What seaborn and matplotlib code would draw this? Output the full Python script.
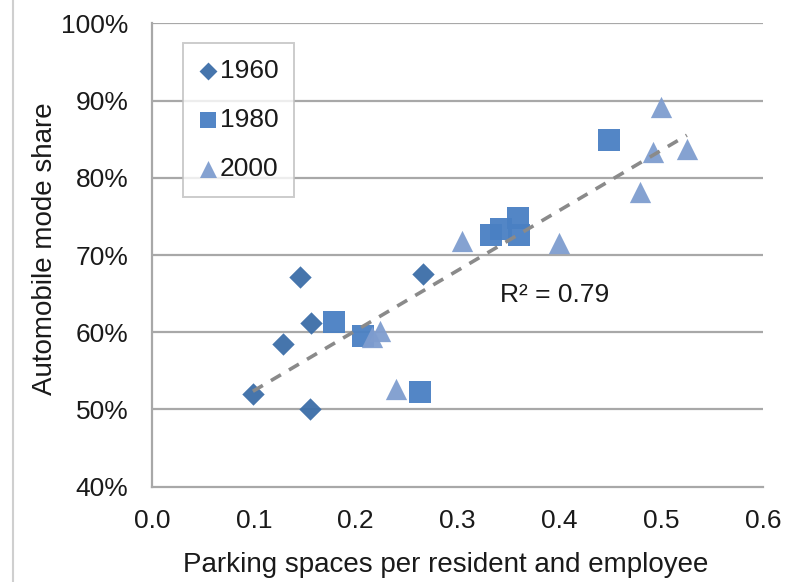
import numpy as np
import pandas as pd
import matplotlib
matplotlib.use("Agg")
import matplotlib.pyplot as plt
from matplotlib.ticker import PercentFormatter, MultipleLocator
from matplotlib.lines import Line2D
import seaborn as sns

# Parking supply vs. automobile mode share, by census year
x_1960 = [0.099, 0.145, 0.156, 0.129, 0.155, 0.266]
y_1960 = [52.0, 67.2, 61.2, 58.5, 50.0, 67.5]

x_1980 = [0.179, 0.207, 0.263, 0.449, 0.333, 0.343, 0.359, 0.360]
y_1980 = [61.3, 59.5, 52.2, 84.9, 72.6, 73.4, 74.8, 72.6]

x_2000 = [0.224, 0.216, 0.239, 0.304, 0.399, 0.500, 0.492, 0.525, 0.479]
y_2000 = [60.2, 59.4, 52.6, 71.8, 71.6, 89.2, 83.4, 83.7, 78.2]

years = ["1960", "1980", "2000"]
r2_label = "R² = 0.79"

df = pd.concat([
    pd.DataFrame({"parking": x_1960, "share": y_1960, "year": "1960"}),
    pd.DataFrame({"parking": x_1980, "share": y_1980, "year": "1980"}),
    pd.DataFrame({"parking": x_2000, "share": y_2000, "year": "2000"}),
], ignore_index=True)

sns.set_theme(style="white")
plt.rcParams["font.family"] = ["Liberation Sans", "DejaVu Sans"]

palette = {"1960": "#3c6ea8", "1980": "#4a80c3", "2000": "#7f9dcf"}
markers = {"1960": "D", "1980": "s", "2000": "^"}
sizes = {"1960": 130, "1980": 230, "2000": 235}

fig = plt.figure(figsize=(8.1, 5.82), dpi=100)
ax = fig.add_axes([0.1877, 0.1637, 0.7546, 0.7963])

grid_c = "#a8a8a8"
for v in range(50, 101, 10):
    ax.axhline(v, color=grid_c, lw=1.6, zorder=0)

for yr in years:
    sub = df[df["year"] == yr]
    sns.scatterplot(data=sub, x="parking", y="share", ax=ax,
                    color=palette[yr], marker=markers[yr], s=sizes[yr],
                    linewidth=0, label=yr, zorder=3, alpha=0.95)

sns.regplot(data=df, x="parking", y="share", ax=ax, scatter=False, ci=None,
            truncate=True,
            line_kws=dict(color="#8a8a8a", lw=2.6, ls=(0, (3.2, 2.6)), zorder=4))

ax.set_xlim(0, 0.6)
ax.set_ylim(40, 100)
ax.xaxis.set_major_locator(MultipleLocator(0.1))
ax.yaxis.set_major_locator(MultipleLocator(10))
ax.xaxis.set_major_formatter(lambda v, p: f"{v:.1f}")
ax.yaxis.set_major_formatter(PercentFormatter(100, decimals=0))

for side in ["top", "right"]:
    ax.spines[side].set_visible(False)
for side in ["left", "bottom"]:
    ax.spines[side].set_color(grid_c)
    ax.spines[side].set_linewidth(1.6)

ax.tick_params(axis="both", which="major", direction="out", length=6,
               width=1.6, color=grid_c, labelsize=19, labelcolor="#1a1a1a")
ax.tick_params(axis="x", pad=10)
ax.tick_params(axis="y", pad=11)

ax.set_xlabel("Parking spaces per resident and employee", fontsize=20,
              color="#1a1a1a")
ax.set_ylabel("Automobile mode share", fontsize=20, color="#1a1a1a")
ax.xaxis.set_label_coords(0.48, -0.168, transform=ax.transAxes)
ax.yaxis.set_label_coords(-0.175, 0.513, transform=ax.transAxes)
ax.xaxis.label.set_va("center")
ax.yaxis.label.set_va("center")

ax.text(0.395, 64.8, r2_label, fontsize=19, color="#1a1a1a",
        ha="center", va="center")

leg = ax.legend(loc="upper left", bbox_to_anchor=(0.05, 0.958), fontsize=19,
                frameon=True, fancybox=False, edgecolor="#c0c0c0",
                handletextpad=0.05, labelspacing=0.95, borderpad=0.6,
                handlelength=0.75, borderaxespad=0, markerscale=0.8)
leg.get_frame().set_linewidth(1.4)
for t in leg.get_texts():
    t.set_color("#1a1a1a")

fig.add_artist(Line2D([0.0155, 0.0155], [0, 1], transform=fig.transFigure,
                      color="#cfcfcf", lw=1.5))

fig.savefig("out.png", dpi=100, facecolor="white")
